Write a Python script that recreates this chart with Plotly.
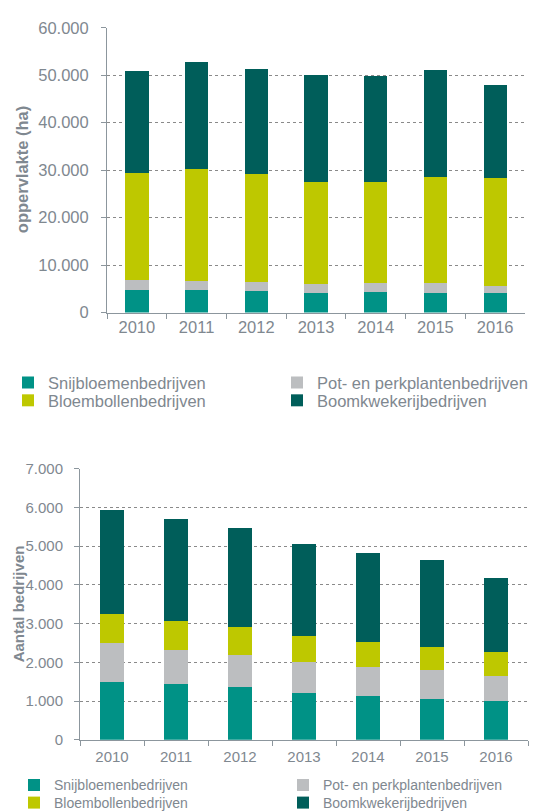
"""
Stacked bar charts: glastuinbouw / boomteelt sectors 2010-2016.
Top: oppervlakte (ha) per sector. Bottom: aantal bedrijven per sector.
"""

import plotly.graph_objects as go

W, H = 544, 811

YEARS = ["2010", "2011", "2012", "2013", "2014", "2015", "2016"]
SERIES = [
    "Snijbloemenbedrijven",
    "Pot- en perkplantenbedrijven",
    "Bloembollenbedrijven",
    "Boomkwekerijbedrijven",
]

# oppervlakte (ha)
AREA_SNIJ = [4850, 4850, 4650, 4020, 4440, 4230, 4020]
AREA_POT = [2080, 1880, 1870, 2010, 1730, 1940, 1670]
AREA_BLOEM = [22540, 23440, 22680, 21570, 21430, 22400, 22670]
AREA_BOOM = [21360, 22670, 22190, 22400, 22260, 22470, 19490]

# aantal bedrijven
COUNT_SNIJ = [1500, 1450, 1360, 1210, 1140, 1050, 990]
COUNT_POT = [990, 880, 840, 810, 750, 740, 650]
COUNT_BLOEM = [750, 730, 710, 650, 640, 610, 630]
COUNT_BOOM = [2690, 2650, 2550, 2400, 2290, 2240, 1910]

COLORS = ["#009286", "#BCBEC0", "#BEC800", "#005E5A"]
TEXT = "#7F8890"
AXIS = "#8C969D"
GRID = "#8A8A8A"
FONT = "Arial, Liberation Sans, sans-serif"


def px_x(x):
    return x / W


def px_y(y):
    return 1 - y / H


fig = go.Figure()

top_data = [AREA_SNIJ, AREA_POT, AREA_BLOEM, AREA_BOOM]
bot_data = [COUNT_SNIJ, COUNT_POT, COUNT_BLOEM, COUNT_BOOM]
# one legend per row, two entries each
top_legends = ["legend", "legend", "legend2", "legend2"]
bot_legends = ["legend3", "legend3", "legend4", "legend4"]

for i, name in enumerate(SERIES):
    fig.add_trace(go.Bar(
        x=YEARS, y=top_data[i], name=name, marker_color=COLORS[i],
        marker_line_width=0, xaxis="x", yaxis="y", legend=top_legends[i],
    ))
for i, name in enumerate(SERIES):
    fig.add_trace(go.Bar(
        x=YEARS, y=bot_data[i], name=name, marker_color=COLORS[i],
        marker_line_width=0, xaxis="x2", yaxis="y2", legend=bot_legends[i],
    ))

common_x = dict(
    type="category", showline=True, linecolor=AXIS, linewidth=1,
    ticks="outside", tickson="boundaries", ticklen=5, tickcolor=AXIS,
    showgrid=False, automargin=False, fixedrange=True,
)
common_y = dict(
    showline=True, linecolor=AXIS, linewidth=1, ticks="outside", ticklen=5,
    tickcolor=AXIS, showgrid=True, gridcolor=GRID, gridwidth=1, griddash="dot",
    zeroline=False, tickformat=",.0f", automargin=False, fixedrange=True,
)


def legend_row(y_px, x_px, size):
    return dict(
        orientation="h", x=px_x(x_px), xanchor="left", y=px_y(y_px),
        yanchor="middle", entrywidth=224, entrywidthmode="pixels",
        font=dict(family=FONT, size=size, color=TEXT),
        bgcolor="rgba(0,0,0,0)", traceorder="normal", itemclick=False,
    )


fig.update_layout(
    width=W, height=H, autosize=False,
    margin=dict(l=0, r=0, t=0, b=0),
    paper_bgcolor="white", plot_bgcolor="white",
    barmode="stack", bargap=0.61,
    separators=",.",
    font=dict(family=FONT, color=TEXT),
    xaxis=dict(**common_x, domain=[px_x(99), px_x(517)], anchor="y",
               tickfont=dict(size=16.5, color=TEXT)),
    yaxis=dict(**common_y, domain=[px_y(308), px_y(20)], anchor="x",
               range=[0, 60000], dtick=10000, ticklabelstandoff=9,
               tickfont=dict(size=16.5, color=TEXT)),
    xaxis2=dict(**common_x, domain=[px_x(72), px_x(520)], anchor="y2",
                ticklabelstandoff=3, tickfont=dict(size=15, color=TEXT)),
    yaxis2=dict(**common_y, domain=[px_y(740), px_y(466)], anchor="x2",
                range=[0, 7000], dtick=1000, ticklabelstandoff=8,
                tickfont=dict(size=15, color=TEXT)),
    legend=legend_row(379, 0, 16.5),
    legend2=legend_row(397, 0, 16.5),
    legend3=legend_row(786, 10, 14),
    legend4=legend_row(804, 10, 14),
    annotations=[
        dict(text="<b>oppervlakte (ha)</b>", xref="paper", yref="paper",
             x=px_x(14), y=px_y(164), textangle=-90, showarrow=False,
             xanchor="center", yanchor="middle",
             font=dict(family=FONT, size=16.5, color=TEXT)),
        dict(text="<b>Aantal bedrijven</b>", xref="paper", yref="paper",
             x=px_x(10), y=px_y(603), textangle=-90, showarrow=False,
             xanchor="center", yanchor="middle",
             font=dict(family=FONT, size=15, color=TEXT)),
    ],
)

fig.write_html("out.html")
